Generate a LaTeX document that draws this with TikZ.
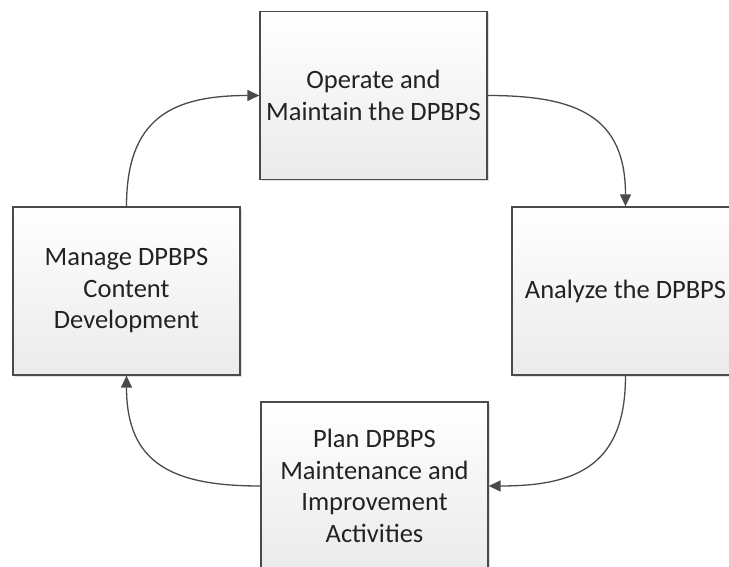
\documentclass[tikz,border=0pt]{standalone}
\usepackage{fontspec}
\setmainfont{Carlito}
\usetikzlibrary{arrows.meta,shadows}
\definecolor{edgegray}{HTML}{4A4A4A}
\definecolor{txtgray}{HTML}{222222}
\tikzset{
  procbox/.style={draw=edgegray, line width=1.3pt, top color=white, bottom color=gray!16,
    minimum width=227pt, minimum height=168pt, align=center, inner sep=0pt,
    font=\fontsize{26.5}{31.5}\selectfont, text=txtgray,
    drop shadow={shadow xshift=2pt, shadow yshift=-2pt, opacity=0.25, fill=gray}},
  flow/.style={draw=edgegray, line width=1.3pt, -{Triangle[length=12pt,width=11pt]}, looseness=1.3}
}
\begin{document}
\begin{tikzpicture}[x=1pt,y=1pt]
\useasboundingbox (0,0) rectangle (729,567);
\clip (0,0) rectangle (729,567);
\node[procbox] (op) at (373.5,471.5) {Operate and\\Maintain the DPBPS};
\node[procbox] (mg) at (126.5,276) {Manage DPBPS\\Content\\Development};
\node[procbox] (an) at (625.5,276) {Analyze the DPBPS};
\node[procbox] (pl) at (374.5,81) {Plan DPBPS\\Maintenance and\\Improvement\\Activities};
\draw[flow] (mg.north) to[out=90,in=180] (op.west);
\draw[flow] (op.east) to[out=0,in=90] (an.north);
\draw[flow] (an.south) to[out=-90,in=0] (pl.east);
\draw[flow] (pl.west) to[out=180,in=-90] (mg.south);
\end{tikzpicture}
\end{document}
